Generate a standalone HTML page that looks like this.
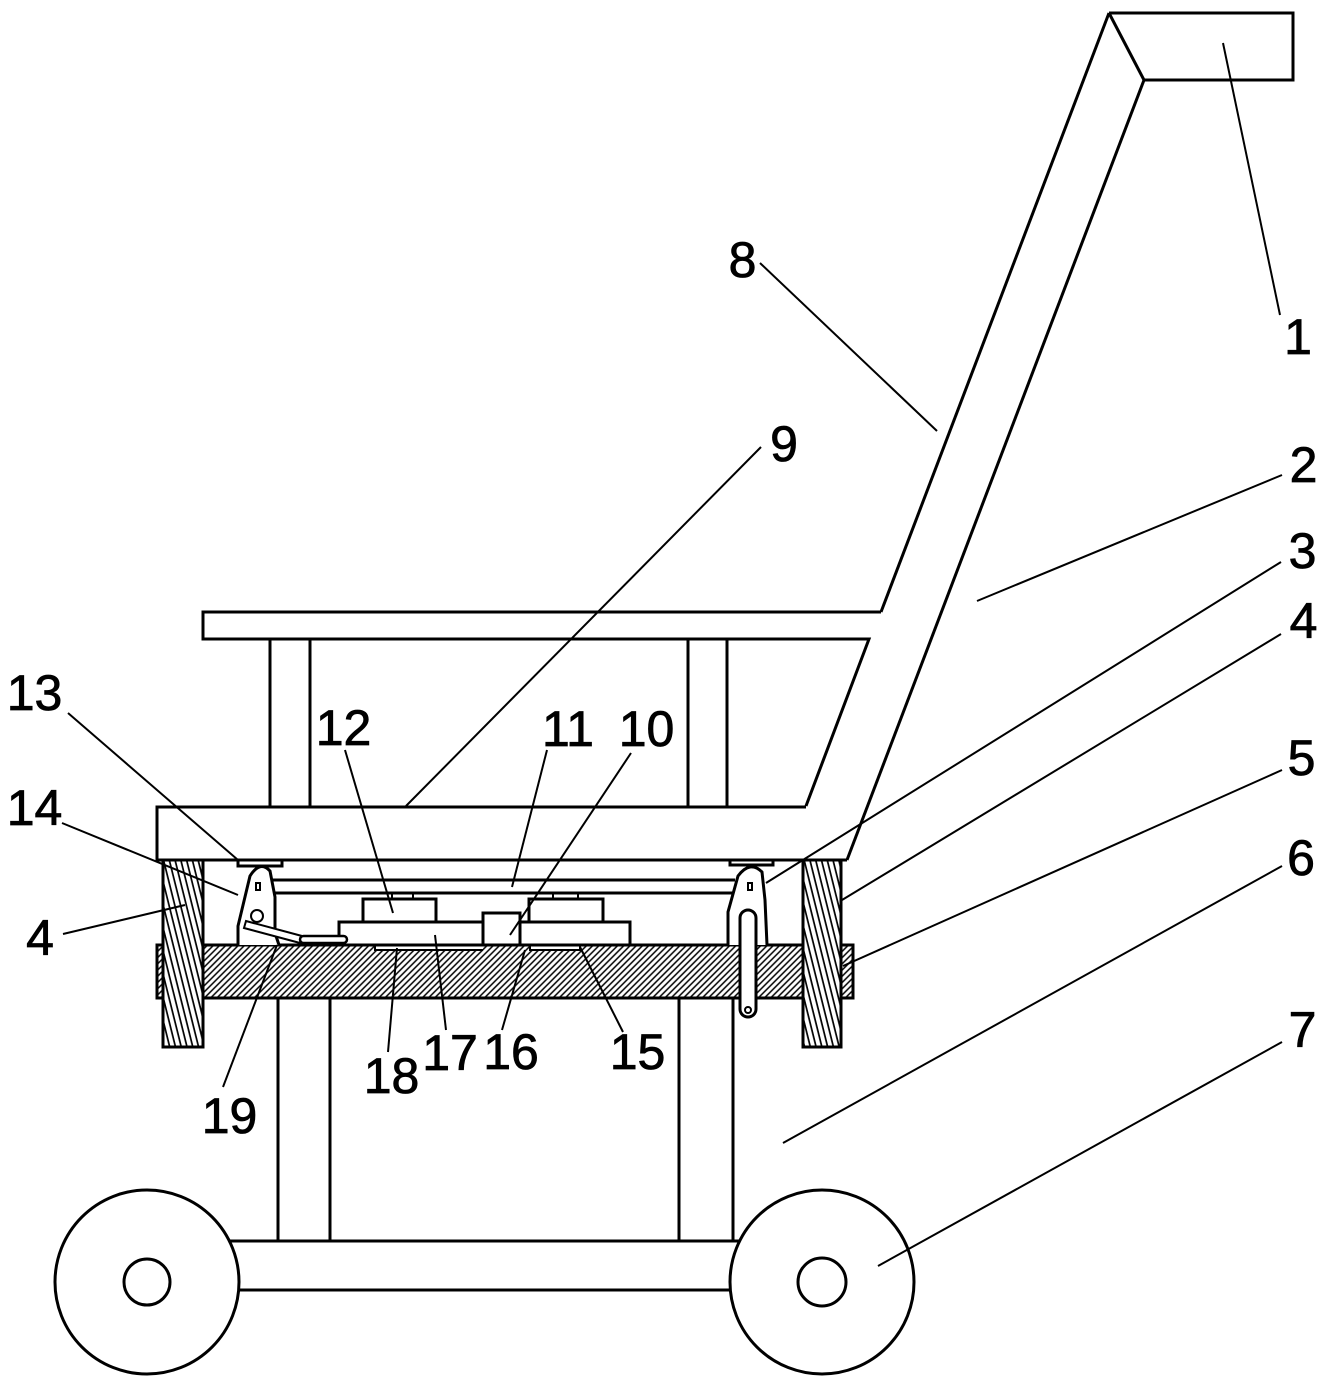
<!DOCTYPE html>
<html>
<head>
<meta charset="utf-8">
<style>
  html, body { margin: 0; padding: 0; background: #fff; }
  svg { display: block; }
  text { font-family: "Liberation Sans", Arial, sans-serif; font-size: 50px; fill: #000; stroke: #000; stroke-width: 0.8px; text-anchor: middle; }
</style>
</head>
<body>
<svg width="1328" height="1386" viewBox="0 0 1328 1386" xmlns="http://www.w3.org/2000/svg">
  <defs>
    <pattern id="hb" patternUnits="userSpaceOnUse" width="4.4" height="10" patternTransform="rotate(45)">
      <line x1="1" y1="0" x2="1" y2="10" stroke="#000" stroke-width="1.5"/>
    </pattern>
    <pattern id="hp" patternUnits="userSpaceOnUse" width="5.6" height="10" patternTransform="rotate(-14)">
      <line x1="1" y1="0" x2="1" y2="10" stroke="#000" stroke-width="1.7"/>
    </pattern>
  </defs>

  <g fill="none" stroke="#000" stroke-width="3" stroke-linejoin="miter">
    <!-- Handle grip (1) -->
    <polyline points="1109,13 1293,13 1293,80 1144,80"/>
    <line x1="1109" y1="13" x2="1144" y2="80"/>
    <!-- Handle (8) -->
    <line x1="1109" y1="13" x2="881" y2="612"/>
    <line x1="1144" y1="80" x2="847" y2="860"/>

    <!-- Seat / basket top bar -->
    <polyline points="881,612 203,612 203,639 869,639 806,806"/>
    <!-- seat posts -->
    <line x1="270" y1="639" x2="270" y2="806"/>
    <line x1="310" y1="639" x2="310" y2="806"/>
    <line x1="688" y1="639" x2="688" y2="806"/>
    <line x1="727" y1="639" x2="727" y2="806"/>

    <!-- Platform (9) -->
    <polyline points="806,807 157,807 157,860 847,860"/>

    <!-- plates 13 -->
    <rect x="238" y="860" width="44" height="6"/>
    <rect x="730" y="860" width="43" height="5"/>

    <!-- rails 11 -->
    <line x1="273" y1="880" x2="735" y2="880"/>
    <line x1="273" y1="893" x2="735" y2="893"/>
  </g>

  <!-- Hatched bar (5) -->
  <rect x="157" y="945" width="696" height="53" fill="url(#hb)" stroke="#000" stroke-width="3"/>
  <!-- recesses in bar -->
  <rect x="375" y="946" width="108" height="4" fill="#fff" stroke="none"/>
  <polyline points="375,945 375,950 483,950" fill="none" stroke="#000" stroke-width="2"/>
  <rect x="530" y="946" width="50" height="4" fill="#fff" stroke="none"/>
  <polyline points="530,945 530,950 580,950 580,945" fill="none" stroke="#000" stroke-width="2"/>

  <!-- Posts 4 -->
  <rect x="163" y="860" width="40" height="187" fill="#fff" stroke="none"/>
  <rect x="163" y="860" width="40" height="187" fill="url(#hp)" stroke="#000" stroke-width="3"/>
  <rect x="803" y="860" width="38" height="187" fill="#fff" stroke="none"/>
  <rect x="803" y="860" width="38" height="187" fill="url(#hp)" stroke="#000" stroke-width="3"/>

  <g fill="#fff" stroke="#000" stroke-width="3">
    <!-- Blocks -->
    <rect x="339" y="922" width="144" height="23"/>
    <rect x="363" y="899" width="73" height="23"/>
    <rect x="483" y="913" width="37" height="32"/>
    <rect x="520" y="922" width="110" height="23"/>
    <rect x="529" y="899" width="74" height="23"/>

    <!-- Left hinge 14 -->
    <path d="M238,945 L238,926 L250,876 Q260,860 270,871 L275,897 L275,933 L279,945"/>
    <!-- Right hinge -->
    <path d="M728,945 L728,912 L738,876 Q750,860 762,872 L765,900 L767,945"/>
  </g>

  <g fill="none" stroke="#000" stroke-width="2">
    <!-- small nubs -->
    <line x1="392" y1="893" x2="392" y2="899"/>
    <line x1="413" y1="893" x2="413" y2="899"/>
    <line x1="553" y1="893" x2="553" y2="899"/>
    <line x1="578" y1="893" x2="578" y2="899"/>
    <!-- holes -->
    <rect x="256" y="883" width="4" height="7"/>
    <rect x="748" y="883" width="4" height="7"/>
    <circle cx="257" cy="916" r="6" fill="#fff"/>
    <!-- link 19 -->
    <path d="M246,921 L244,928 L300,943 L302,936 Z" fill="#fff"/>
    <rect x="300" y="936" width="47" height="7" rx="3.5" fill="#fff" stroke-width="2.5"/>
  </g>

  <!-- Pin -->
  <rect x="740" y="910" width="16" height="107" rx="8" fill="#fff" stroke="#000" stroke-width="3"/>
  <circle cx="748" cy="1010" r="3" fill="#fff" stroke="#000" stroke-width="2"/>

  <!-- Lower frame -->
  <g fill="none" stroke="#000" stroke-width="3">
    <line x1="278" y1="998" x2="278" y2="1241"/>
    <line x1="330" y1="998" x2="330" y2="1241"/>
    <line x1="679" y1="998" x2="679" y2="1241"/>
    <line x1="733" y1="998" x2="733" y2="1241"/>
    <line x1="225" y1="1241" x2="740" y2="1241"/>
    <line x1="230" y1="1290" x2="740" y2="1290"/>
  </g>

  <!-- Wheels -->
  <g fill="#fff" stroke="#000" stroke-width="3">
    <circle cx="147" cy="1282" r="92"/>
    <circle cx="147" cy="1282" r="23"/>
    <circle cx="822" cy="1282" r="92"/>
    <circle cx="822" cy="1282" r="24"/>
  </g>

  <!-- Leader lines -->
  <g fill="none" stroke="#000" stroke-width="2">
    <line x1="1223" y1="43" x2="1280" y2="315"/>
    <line x1="1282" y1="475" x2="977" y2="601"/>
    <line x1="1281" y1="562" x2="766" y2="883"/>
    <line x1="1281" y1="634" x2="842" y2="900"/>
    <line x1="1282" y1="770" x2="843" y2="966"/>
    <line x1="1282" y1="866" x2="783" y2="1143"/>
    <line x1="1282" y1="1042" x2="878" y2="1266"/>
    <line x1="760" y1="263" x2="937" y2="431"/>
    <line x1="761" y1="447" x2="406" y2="806"/>
    <line x1="631" y1="753" x2="510" y2="935"/>
    <line x1="547" y1="750" x2="512" y2="887"/>
    <line x1="345" y1="750" x2="393" y2="913"/>
    <line x1="68" y1="713" x2="238" y2="860"/>
    <line x1="62" y1="823" x2="238" y2="895"/>
    <line x1="63" y1="934" x2="185" y2="905"/>
    <line x1="623" y1="1032" x2="580" y2="947"/>
    <line x1="502" y1="1030" x2="525" y2="950"/>
    <line x1="446" y1="1030" x2="435" y2="935"/>
    <line x1="388" y1="1052" x2="397" y2="948"/>
    <line x1="223" y1="1087" x2="277" y2="945"/>
  </g>

  <!-- Labels -->
  <text x="1298" y="354">1</text>
  <text x="1303.5" y="482">2</text>
  <text x="1302.5" y="568">3</text>
  <text x="1303.5" y="638">4</text>
  <text x="1301.5" y="775">5</text>
  <text x="1301" y="875">6</text>
  <text x="1302.5" y="1047">7</text>
  <text x="742.5" y="277">8</text>
  <text x="784" y="461">9</text>
  <text x="646.5" y="746">10</text>
  <text x="568" y="746">11</text>
  <text x="343.5" y="745">12</text>
  <text x="34.5" y="710">13</text>
  <text x="34.5" y="825">14</text>
  <text x="40" y="955">4</text>
  <text x="637.5" y="1069">15</text>
  <text x="511" y="1069">16</text>
  <text x="450" y="1070">17</text>
  <text x="391.5" y="1093">18</text>
  <text x="229.5" y="1133">19</text>
</svg>
</body>
</html>
